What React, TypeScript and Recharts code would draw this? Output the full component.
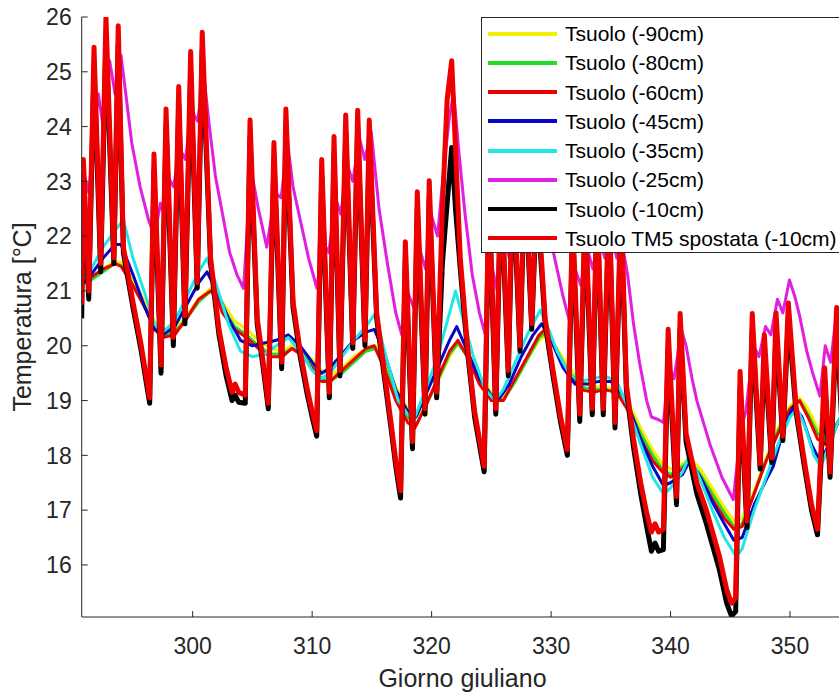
import React from 'react';
import { LineChart, Line, XAxis, YAxis, Legend } from 'recharts';

type Pt = [number, number];

// ---- axes ----
const xTicks = [300, 310, 320, 330, 340, 350];
const yTicks = [16, 17, 18, 19, 20, 21, 22, 23, 24, 25, 26];
const xDomain: [number, number] = [290.71, 354.46];
const yDomain: [number, number] = [15.05, 26];
const xLabel = 'Giorno giuliano';
const yLabel = 'Temperatura [°C]';

// ---- series values: [giorno giuliano, temperatura] ----
const tsuolo90: Pt[] = [
  [290.71, 21.2], [291.5, 21.25], [292.5, 21.4], [293.5, 21.55], [294.2, 21.5], [295.0, 21.2], [296.0, 20.8],
  [296.8, 20.45], [297.5, 20.3], [298.5, 20.3], [299.5, 20.55], [300.5, 20.85], [301.5, 21.05], [302.5, 20.8],
  [303.5, 20.45], [304.5, 20.3], [305.5, 20.1], [306.5, 19.95], [307.5, 19.9], [308.3, 20.0], [309.0, 19.95],
  [310.0, 19.75], [310.8, 19.55], [311.5, 19.45], [312.5, 19.6], [313.5, 19.8], [314.5, 19.95], [315.3, 20.0],
  [316.0, 19.75], [317.0, 19.25], [318.0, 18.85], [318.7, 18.7], [319.5, 18.95], [320.5, 19.35], [321.5, 19.8],
  [322.2, 20.05], [323.0, 19.85], [324.0, 19.45], [325.0, 19.15], [326.0, 19.05], [327.0, 19.35], [328.0, 19.75],
  [329.0, 20.1], [329.6, 20.2], [330.5, 19.95], [331.5, 19.6], [332.5, 19.35], [333.5, 19.25], [334.5, 19.25],
  [335.5, 19.2], [336.5, 18.95], [337.5, 18.5], [338.5, 18.1], [339.3, 17.85], [340.0, 17.75], [341.0, 17.85],
  [341.6, 17.95], [342.5, 17.75], [343.5, 17.4], [344.5, 17.05], [345.3, 16.8], [346.0, 16.85], [347.0, 17.35],
  [348.0, 17.95], [349.0, 18.5], [350.0, 18.9], [350.8, 19.05], [351.5, 18.85], [352.3, 18.5], [353.0, 18.35],
  [354.0, 18.6], [354.5, 18.75],
];

const tsuolo80: Pt[] = [
  [290.71, 21.15], [291.5, 21.2], [292.5, 21.35], [293.5, 21.5], [294.2, 21.45], [295.0, 21.1], [296.0, 20.7],
  [296.8, 20.35], [297.5, 20.2], [298.5, 20.25], [299.5, 20.5], [300.5, 20.8], [301.5, 21.0], [302.5, 20.7],
  [303.5, 20.35], [304.5, 20.2], [305.5, 20.0], [306.5, 19.85], [307.5, 19.85], [308.3, 19.95], [309.0, 19.9],
  [310.0, 19.65], [310.8, 19.4], [311.5, 19.35], [312.5, 19.5], [313.5, 19.7], [314.5, 19.9], [315.3, 19.95],
  [316.0, 19.65], [317.0, 19.1], [318.0, 18.7], [318.7, 18.55], [319.5, 18.9], [320.5, 19.35], [321.5, 19.85],
  [322.2, 20.05], [323.0, 19.8], [324.0, 19.35], [325.0, 19.05], [326.0, 19.0], [327.0, 19.35], [328.0, 19.75],
  [329.0, 20.15], [329.6, 20.25], [330.5, 19.9], [331.5, 19.5], [332.5, 19.25], [333.5, 19.2], [334.5, 19.2],
  [335.5, 19.15], [336.5, 18.85], [337.5, 18.4], [338.5, 18.0], [339.3, 17.75], [340.0, 17.65], [341.0, 17.8],
  [341.6, 17.9], [342.5, 17.65], [343.5, 17.3], [344.5, 16.95], [345.3, 16.7], [346.0, 16.75], [347.0, 17.3],
  [348.0, 17.9], [349.0, 18.45], [350.0, 18.85], [350.8, 19.0], [351.5, 18.75], [352.3, 18.4], [353.0, 18.25],
  [354.0, 18.6], [354.5, 18.75],
];

const tsuolo60: Pt[] = [
  [290.71, 21.15], [291.5, 21.25], [292.5, 21.4], [293.5, 21.5], [294.0, 21.45], [295.0, 21.1], [296.0, 20.7],
  [296.8, 20.3], [297.5, 20.15], [298.5, 20.2], [299.5, 20.5], [300.5, 20.85], [301.5, 21.0], [302.0, 20.9],
  [302.5, 20.6], [303.5, 20.3], [304.5, 20.15], [305.5, 19.95], [306.5, 19.8], [307.5, 19.8], [308.3, 19.95],
  [309.0, 19.85], [310.0, 19.6], [310.8, 19.35], [311.5, 19.35], [312.5, 19.55], [313.5, 19.75], [314.5, 19.95],
  [315.2, 20.0], [316.0, 19.6], [317.0, 19.0], [318.0, 18.6], [318.6, 18.5], [319.5, 18.9], [320.5, 19.4],
  [321.5, 19.9], [322.2, 20.1], [323.0, 19.8], [324.0, 19.3], [325.0, 19.0], [326.0, 19.0], [327.0, 19.4],
  [328.0, 19.8], [329.0, 20.2], [329.5, 20.3], [330.5, 19.9], [331.5, 19.45], [332.5, 19.2], [333.5, 19.15],
  [334.5, 19.2], [335.5, 19.15], [336.5, 18.8], [337.5, 18.3], [338.5, 17.9], [339.3, 17.7], [340.0, 17.6],
  [341.0, 17.75], [341.6, 17.9], [342.5, 17.6], [343.5, 17.2], [344.5, 16.85], [345.3, 16.65], [346.0, 16.7],
  [347.0, 17.3], [348.0, 17.9], [349.0, 18.4], [350.0, 18.85], [350.8, 19.0], [351.5, 18.7], [352.3, 18.3],
  [353.0, 18.2], [354.0, 18.6], [354.5, 18.8],
];

const tsuolo45: Pt[] = [
  [290.71, 21.1], [291.5, 21.3], [292.5, 21.6], [293.5, 21.85], [294.0, 21.85], [295.0, 21.3], [296.0, 20.7],
  [296.8, 20.3], [297.5, 20.2], [298.5, 20.35], [299.5, 20.75], [300.5, 21.15], [301.2, 21.35], [302.0, 21.0],
  [303.0, 20.5], [304.0, 20.1], [305.0, 20.0], [306.0, 20.05], [307.0, 20.1], [308.0, 20.2], [309.0, 20.0],
  [310.0, 19.7], [310.8, 19.5], [311.5, 19.6], [312.5, 19.85], [313.5, 20.1], [314.5, 20.25], [315.2, 20.3],
  [316.0, 19.9], [317.0, 19.2], [318.0, 18.8], [318.7, 18.7], [319.5, 19.1], [320.5, 19.6], [321.5, 20.1],
  [322.1, 20.35], [323.0, 19.9], [324.0, 19.4], [325.0, 19.1], [325.7, 19.05], [326.5, 19.3], [327.5, 19.8],
  [328.5, 20.2], [329.2, 20.4], [330.0, 20.1], [331.0, 19.6], [332.0, 19.3], [333.0, 19.3], [334.0, 19.35],
  [335.0, 19.35], [336.0, 19.1], [336.5, 18.9], [337.5, 18.3], [338.5, 17.8], [339.4, 17.45], [340.0, 17.5],
  [341.0, 17.65], [341.6, 17.9], [342.5, 17.6], [343.5, 17.15], [344.5, 16.75], [345.3, 16.45], [346.0, 16.5],
  [347.0, 17.1], [348.0, 17.55], [348.6, 17.8], [349.5, 18.5], [350.3, 18.9], [351.0, 18.7], [351.8, 18.2],
  [352.5, 17.9], [353.3, 18.2], [354.0, 18.6], [354.5, 18.8],
];

const tsuolo35: Pt[] = [
  [290.71, 21.2], [291.5, 21.4], [292.5, 21.8], [293.5, 22.1], [294.2, 22.3], [295.0, 21.6], [296.0, 20.95],
  [296.8, 20.4], [297.5, 20.25], [298.5, 20.45], [299.5, 20.9], [300.5, 21.35], [301.2, 21.6], [302.0, 21.1],
  [303.0, 20.4], [304.0, 19.9], [305.0, 19.8], [306.0, 19.85], [307.0, 20.0], [308.0, 20.15], [309.0, 19.9],
  [310.0, 19.55], [310.7, 19.4], [311.5, 19.5], [312.5, 19.8], [313.5, 20.1], [314.5, 20.35], [315.3, 20.6],
  [316.0, 19.95], [317.2, 19.0], [318.0, 18.75], [318.6, 18.7], [319.5, 19.2], [320.5, 19.8], [321.5, 20.6],
  [322.0, 21.0], [322.5, 20.6], [323.5, 19.8], [324.5, 19.2], [325.3, 19.0], [326.0, 19.2], [327.0, 19.7],
  [328.0, 20.2], [329.1, 20.65], [329.8, 20.3], [330.5, 19.9], [331.5, 19.5], [332.5, 19.35], [333.5, 19.4],
  [334.5, 19.45], [335.5, 19.35], [336.3, 18.95], [337.5, 18.2], [338.5, 17.6], [339.4, 17.3], [340.0, 17.4],
  [341.0, 17.7], [341.6, 18.0], [342.5, 17.55], [343.5, 17.0], [344.5, 16.5], [345.5, 16.15], [346.0, 16.3],
  [347.0, 17.0], [348.0, 17.6], [349.0, 18.2], [350.0, 18.7], [350.6, 18.85], [351.3, 18.5], [352.0, 18.0],
  [352.6, 17.8], [353.3, 18.2], [354.0, 18.6], [354.5, 18.8],
];

const tsuolo25: Pt[] = [
  [290.71, 21.6], [290.95, 23.1], [291.3, 22.8], [291.9, 24.2], [292.1, 24.6], [292.5, 24.0], [293.05, 25.2],
  [293.5, 24.6], [294.0, 25.3], [294.4, 24.6], [294.9, 23.7], [295.6, 22.9], [296.3, 22.3], [296.8, 22.0],
  [297.3, 22.6], [297.6, 22.4], [297.9, 23.1], [298.4, 22.9], [298.9, 23.6], [299.4, 23.4], [299.9, 24.3],
  [300.4, 24.1], [300.95, 24.9], [301.4, 24.0], [301.9, 23.1], [302.5, 22.4], [303.1, 21.7], [303.7, 21.3],
  [304.25, 21.05], [304.9, 23.2], [305.5, 22.5], [306.2, 21.8], [306.9, 22.8], [307.4, 22.7], [307.95, 23.7],
  [308.4, 22.9], [309.0, 22.3], [309.7, 21.6], [310.4, 21.05], [310.9, 21.9], [311.4, 21.7], [311.95, 22.7],
  [312.4, 22.4], [312.95, 23.3], [313.4, 23.0], [313.95, 23.8], [314.4, 23.4], [314.95, 23.9], [315.6, 22.5],
  [316.3, 21.5], [317.0, 20.6], [317.5, 20.2], [317.95, 21.0], [318.5, 20.7], [318.95, 21.8], [319.5, 21.4],
  [319.95, 22.4], [320.5, 22.0], [321.0, 23.2], [321.5, 24.2], [321.85, 24.6], [322.3, 23.5], [322.8, 22.4],
  [323.4, 21.3], [324.0, 20.6], [324.5, 20.2], [325.0, 21.5], [325.5, 21.0], [326.0, 22.0], [326.5, 21.6],
  [327.0, 22.4], [327.5, 22.0], [328.0, 22.7], [328.5, 22.3], [329.0, 22.9], [329.6, 22.3], [330.3, 21.6],
  [331.0, 20.9], [331.6, 20.4], [332.0, 21.4], [332.5, 21.1], [333.0, 21.8], [333.5, 21.4], [334.0, 22.0],
  [334.5, 21.6], [335.0, 22.1], [335.5, 21.6], [336.0, 21.8], [336.4, 21.3], [336.9, 20.4], [337.4, 19.7],
  [338.0, 19.0], [338.4, 18.7], [339.0, 18.65], [339.4, 18.6], [339.9, 19.6], [340.3, 19.4], [340.9, 20.3],
  [341.3, 20.0], [341.8, 19.4], [342.2, 19.0], [343.3, 18.2], [344.3, 17.6], [345.25, 17.19], [345.9, 18.5],
  [346.3, 18.8], [346.95, 20.0], [347.4, 19.8], [347.95, 20.35], [348.4, 20.2], [348.95, 20.85], [349.4, 20.6],
  [349.95, 21.2], [350.4, 20.9], [350.8, 20.55], [351.4, 19.9], [351.9, 19.5], [352.5, 19.08], [352.95, 20.0],
  [353.4, 19.7], [353.95, 20.7], [354.5, 20.3],
];

const tsuolo10: Pt[] = [
  [290.71, 20.5], [290.85, 23.1], [291.3, 20.85], [291.74, 25.1], [292.3, 21.35], [292.74, 25.6], [293.4, 21.5],
  [293.77, 25.5], [294.2, 21.7], [295.0, 20.7], [295.7, 19.9], [296.1, 19.35], [296.4, 18.95], [296.76, 23.2],
  [297.35, 19.5], [297.77, 24.0], [298.38, 20.0], [298.83, 24.4], [299.35, 20.4], [299.83, 25.0], [300.38, 21.05],
  [300.8, 25.4], [301.5, 21.5], [302.2, 20.2], [302.8, 19.45], [303.3, 19.0], [303.55, 19.1], [303.85, 18.97],
  [304.4, 18.95], [304.8, 23.8], [305.4, 20.4], [305.9, 19.6], [306.33, 18.85], [306.8, 23.4], [307.45, 19.58],
  [307.8, 24.0], [308.4, 20.7], [309.0, 19.8], [309.6, 19.1], [310.0, 18.7], [310.38, 18.35], [310.8, 23.1],
  [311.44, 19.05], [311.83, 23.5], [312.33, 19.45], [312.81, 23.9], [313.4, 19.95], [313.81, 24.0], [314.42, 20.0],
  [314.78, 23.8], [315.4, 20.5], [316.0, 19.5], [316.6, 18.5], [317.0, 17.8], [317.4, 17.22], [317.8, 21.6],
  [318.4, 18.12], [318.8, 22.5], [319.45, 18.75], [319.8, 22.7], [320.42, 19.05], [320.9, 21.5], [321.3, 22.6],
  [321.68, 23.62], [322.0, 22.5], [322.4, 21.4], [323.0, 19.9], [323.6, 18.7], [324.4, 17.7], [324.8, 22.7],
  [325.37, 18.75], [325.8, 22.9], [326.42, 19.45], [326.8, 23.0], [327.4, 19.9], [327.8, 23.1], [328.38, 20.3],
  [328.8, 22.7], [329.5, 20.4], [330.2, 19.4], [330.8, 18.6], [331.36, 18.0], [331.8, 22.1], [332.4, 18.62],
  [332.85, 22.3], [333.45, 18.74], [333.85, 22.5], [334.37, 18.74], [334.85, 22.5], [335.35, 18.5], [335.85, 22.3],
  [336.3, 19.2], [336.9, 18.15], [337.5, 17.3], [338.0, 16.7], [338.4, 16.25], [338.7, 16.4], [339.0, 16.25],
  [339.4, 16.28], [339.8, 20.0], [340.5, 17.1], [340.8, 20.3], [341.3, 18.25], [342.2, 17.3], [343.0, 16.75],
  [344.1, 15.9], [344.7, 15.3], [345.1, 15.07], [345.45, 15.15], [345.82, 19.2], [346.4, 16.68], [346.84, 20.3],
  [347.5, 17.75], [347.85, 19.9], [348.47, 17.87], [348.83, 20.3], [349.4, 18.27], [349.86, 20.5], [350.5, 18.8],
  [351.2, 17.8], [351.8, 17.0], [352.3, 16.55], [352.9, 19.3], [353.35, 17.6], [353.9, 20.4], [354.5, 17.9],
];

const tsuoloTM5: Pt[] = [
  [290.71, 20.75], [290.85, 23.4], [291.3, 21.0], [291.74, 25.45], [292.3, 21.5], [292.74, 26.0], [293.4, 21.6],
  [293.77, 25.84], [294.2, 21.8], [295.0, 20.8], [295.7, 20.0], [296.1, 19.45], [296.4, 19.05], [296.76, 23.5],
  [297.35, 19.65], [297.77, 24.32], [298.38, 20.15], [298.83, 24.73], [299.35, 20.55], [299.83, 25.37],
  [300.38, 21.15], [300.8, 25.72], [301.5, 21.6], [302.2, 20.3], [302.8, 19.6], [303.3, 19.15], [303.55, 19.3],
  [303.85, 19.15], [304.4, 19.1], [304.8, 24.12], [305.4, 20.5], [305.9, 19.7], [306.33, 18.95], [306.8, 23.71],
  [307.45, 19.7], [307.8, 24.32], [308.4, 20.8], [309.0, 19.9], [309.6, 19.2], [310.0, 18.8], [310.38, 18.45],
  [310.8, 23.4], [311.44, 19.15], [311.83, 23.82], [312.33, 19.55], [312.81, 24.21], [313.4, 20.05], [313.81, 24.3],
  [314.42, 20.1], [314.78, 24.12], [315.4, 20.6], [316.0, 19.6], [316.6, 18.6], [317.0, 17.9], [317.4, 17.35],
  [317.8, 21.9], [318.4, 18.25], [318.8, 22.81], [319.45, 18.85], [319.8, 23.01], [320.42, 19.15], [320.9, 22.5],
  [321.3, 24.5], [321.68, 25.2], [322.0, 23.6], [322.4, 21.6], [323.0, 20.0], [323.6, 18.8], [324.4, 17.8],
  [324.8, 23.0], [325.37, 18.85], [325.8, 23.2], [326.42, 19.55], [326.8, 23.3], [327.4, 20.0], [327.8, 23.4],
  [328.38, 20.4], [328.8, 23.0], [329.5, 20.5], [330.2, 19.5], [330.8, 18.7], [331.36, 18.1], [331.8, 22.4],
  [332.4, 18.75], [332.85, 22.6], [333.45, 18.85], [333.85, 22.8], [334.37, 18.85], [334.85, 22.8], [335.35, 18.6],
  [335.85, 22.6], [336.3, 19.3], [336.9, 18.3], [337.5, 17.5], [338.0, 16.95], [338.4, 16.6], [338.7, 16.75],
  [339.0, 16.6], [339.4, 16.65], [339.8, 20.3], [340.5, 17.25], [340.8, 20.59], [341.3, 18.4], [342.2, 17.5],
  [343.0, 17.0], [344.1, 16.15], [344.7, 15.55], [345.1, 15.3], [345.45, 15.4], [345.82, 19.53], [346.4, 16.8],
  [346.84, 20.59], [347.5, 17.85], [347.85, 20.2], [348.47, 17.95], [348.83, 20.6], [349.4, 18.35], [349.86, 20.78],
  [350.5, 18.9], [351.2, 17.9], [351.8, 17.1], [352.3, 16.65], [352.9, 19.6], [353.35, 17.7], [353.9, 20.7],
  [354.5, 18.0],
];

const seriesNames = [
  'Tsuolo (-90cm)', 'Tsuolo (-80cm)', 'Tsuolo (-60cm)', 'Tsuolo (-45cm)',
  'Tsuolo (-35cm)', 'Tsuolo (-25cm)', 'Tsuolo (-10cm)', 'Tsuolo TM5 spostata (-10cm)',
];
const seriesData = [tsuolo90, tsuolo80, tsuolo60, tsuolo45, tsuolo35, tsuolo25, tsuolo10, tsuoloTM5];
const seriesColors = ['#f4ee00', '#22dd22', '#ec0000', '#0606c4', '#22e6e6', '#e020e0', '#000000', '#ee0000'];
const seriesWidths = [3, 3, 3, 3, 3, 3, 5, 5];

// ---- styling ----
const AXIS = '#262626';
const FONT = '"Liberation Sans", Arial, Helvetica, sans-serif';
const TICK_FS = 23;
const LABEL_FS = 25;
const LEGEND_FS = 21;
const TICK_LEN = 6;

const series = seriesNames.map((name, i) => ({
  name,
  color: seriesColors[i],
  width: seriesWidths[i],
  rows: seriesData[i].map(([d, t]) => ({ d, t })),
}));

const BottomTick = (props: any) => {
  const { x, y, payload } = props;
  return (
    <g>
      <line x1={x} x2={x} y1={y} y2={y - TICK_LEN} stroke={AXIS} strokeWidth={1} />
      <text x={x} y={y + 37} textAnchor="middle" fontSize={TICK_FS} fill={AXIS} fontFamily={FONT}>
        {payload.value}
      </text>
    </g>
  );
};

const TopTick = (props: any) => {
  const { x, y } = props;
  return <line x1={x} x2={x} y1={y} y2={y + TICK_LEN} stroke={AXIS} strokeWidth={1} />;
};

const LeftTick = (props: any) => {
  const { x, y, payload } = props;
  return (
    <g>
      <line x1={x} x2={x + TICK_LEN} y1={y} y2={y} stroke={AXIS} strokeWidth={1} />
      <text x={x - 10} y={y} dy="0.36em" textAnchor="end" fontSize={TICK_FS} fill={AXIS} fontFamily={FONT}>
        {payload.value}
      </text>
    </g>
  );
};

const XLabel = (props: any) => {
  const vb = props.viewBox || { x: 0, y: 0, width: 0, height: 0 };
  return (
    <text x={vb.x + vb.width / 2} y={vb.y + 70} textAnchor="middle" fontSize={LABEL_FS} fill={AXIS} fontFamily={FONT}>
      {xLabel}
    </text>
  );
};

const YLabel = (props: any) => {
  const vb = props.viewBox || { x: 0, y: 0, width: 0, height: 0 };
  const cx = vb.x + 31;
  const cy = vb.y + vb.height / 2;
  return (
    <text x={cx} y={cy} textAnchor="middle" fontSize={LABEL_FS} fill={AXIS} fontFamily={FONT}
      transform={`rotate(-90, ${cx}, ${cy})`}>
      {yLabel}
    </text>
  );
};

const LegendBox = () => (
  <div
    style={{
      boxSizing: 'border-box', width: 400, height: 236, background: '#fff',
      border: `1px solid ${AXIS}`, paddingTop: 1, fontFamily: FONT, fontSize: LEGEND_FS, color: '#000',
    }}
  >
    {series.map((s) => (
      <div key={s.name} style={{ height: 29.25, display: 'flex', alignItems: 'center' }}>
        <div style={{ marginLeft: 6, width: 69, height: 4, background: s.color, flex: 'none' }} />
        <span style={{ marginLeft: 8, lineHeight: 1, whiteSpace: 'nowrap' }}>{s.name}</span>
      </div>
    ))}
  </div>
);

export default function App() {
  return (
    <div style={{ position: 'absolute', left: 0, top: 0, width: 839, height: 697, overflow: 'hidden', background: '#fff' }}>
      <LineChart width={860} height={697} margin={{ top: 17, right: 16.7, bottom: 0, left: 0 }}>
        <XAxis
          dataKey="d" type="number" domain={xDomain} ticks={xTicks} allowDataOverflow interval={0}
          height={80} tickSize={0} tickMargin={0} tick={<BottomTick />}
          axisLine={{ stroke: AXIS, strokeWidth: 1 }} label={<XLabel />}
        />
        <XAxis
          xAxisId="top" orientation="top" dataKey="d" type="number" domain={xDomain} ticks={xTicks}
          allowDataOverflow interval={0} height={0} tickSize={0} tickMargin={0} tick={<TopTick />}
          axisLine={{ stroke: AXIS, strokeWidth: 1 }}
        />
        <YAxis
          type="number" domain={yDomain} ticks={yTicks} allowDataOverflow interval={0}
          width={81.7} tickSize={0} tickMargin={0} tick={<LeftTick />}
          axisLine={{ stroke: AXIS, strokeWidth: 1 }} label={<YLabel />}
        />
        {series.map((s) => (
          <Line
            key={s.name} data={s.rows} dataKey="t" name={s.name} type="linear"
            stroke={s.color} strokeWidth={s.width} dot={false} activeDot={false}
            strokeLinejoin="round" isAnimationActive={false}
          />
        ))}
        <Legend
          layout="vertical" align="center" verticalAlign="middle"
          wrapperStyle={{ position: 'absolute', left: 481, top: 17, width: 400, height: 236 }}
          content={() => <LegendBox />}
        />
      </LineChart>
    </div>
  );
}
